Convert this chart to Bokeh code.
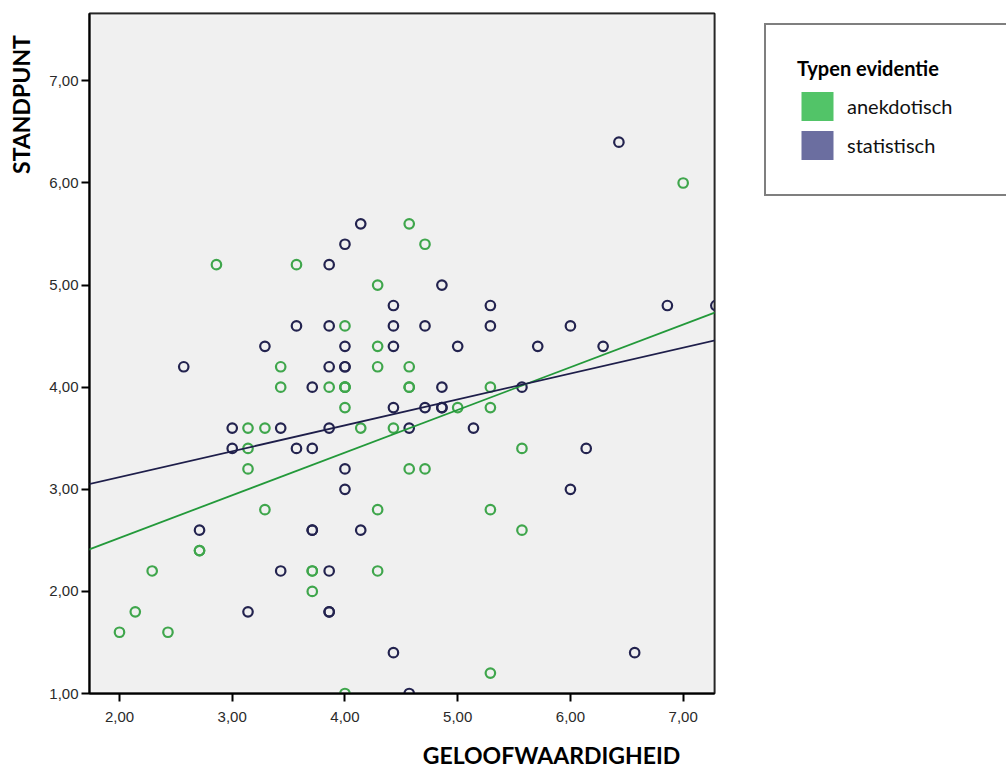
import math
from bokeh.plotting import figure
from bokeh.models import Range1d, FixedTicker, Slope, Label, Legend, LegendItem, BoxAnnotation
from bokeh.embed import file_html
from bokeh.resources import INLINE

# ---- data ----
anek_x = [2.00, 2.14, 2.29, 2.43, 2.71, 2.71, 2.86, 3.14, 3.14, 3.14, 3.29, 3.29, 3.43, 3.43,
          3.57, 3.71, 3.71, 3.71, 3.86, 4.00, 4.00, 4.00, 4.00, 4.00, 4.00, 4.14, 4.29, 4.29,
          4.29, 4.29, 4.29, 4.43, 4.57, 4.57, 4.57, 4.57, 4.57, 4.71, 4.71, 5.00, 5.29, 5.29,
          5.29, 5.29, 5.57, 5.57, 7.00]
anek_y = [1.6, 1.8, 2.2, 1.6, 2.4, 2.4, 5.2, 3.6, 3.4, 3.2, 3.6, 2.8, 4.2, 4.0,
          5.2, 2.2, 2.2, 2.0, 4.0, 4.6, 4.0, 4.0, 4.0, 3.8, 1.0, 3.6, 5.0, 4.4,
          4.2, 2.8, 2.2, 3.6, 5.6, 4.2, 4.0, 4.0, 3.2, 5.4, 3.2, 3.8, 4.0, 3.8,
          2.8, 1.2, 3.4, 2.6, 6.0]

stat_x = [2.57, 2.71, 3.00, 3.00, 3.14, 3.29, 3.43, 3.43, 3.57, 3.57, 3.71, 3.71, 3.71, 3.71,
          3.86, 3.86, 3.86, 3.86, 3.86, 3.86, 3.86, 4.00, 4.00, 4.00, 4.00, 4.00, 4.00, 4.14,
          4.14, 4.43, 4.43, 4.43, 4.43, 4.43, 4.57, 4.57, 4.71, 4.71, 4.86, 4.86, 4.86, 4.86,
          5.00, 5.14, 5.29, 5.29, 5.57, 5.71, 6.00, 6.00, 6.14, 6.29, 6.43, 6.57, 6.86, 7.29]
stat_y = [4.2, 2.6, 3.6, 3.4, 1.8, 4.4, 3.6, 2.2, 4.6, 3.4, 4.0, 3.4, 2.6, 2.6,
          5.2, 4.6, 4.2, 3.6, 2.2, 1.8, 1.8, 5.4, 4.4, 4.2, 4.2, 3.2, 3.0, 5.6,
          2.6, 4.8, 4.6, 4.4, 3.8, 1.4, 3.6, 1.0, 4.6, 3.8, 5.0, 4.0, 3.8, 3.8,
          4.4, 3.6, 4.8, 4.6, 4.0, 4.4, 4.6, 3.0, 3.4, 4.4, 6.4, 1.4, 4.8, 4.8]

# fit lines (intercept, slope)
anek_fit = (1.688, 0.4179)
stat_fit = (2.611, 0.2538)

x_ticks = [2, 3, 4, 5, 6, 7]
x_tick_labels = ["2,00", "3,00", "4,00", "5,00", "6,00", "7,00"]
y_ticks = [1, 2, 3, 4, 5, 6, 7]
y_tick_labels = ["1,00", "2,00", "3,00", "4,00", "5,00", "6,00", "7,00"]

series_names = ["anekdotisch", "statistisch"]
legend_title = "Typen evidentie"
x_title = "GELOOFWAARDIGHEID"
y_title = "STANDPUNT"

# ---- styles ----
GREEN_PT = "#3fa64c"
NAVY_PT = "#23234f"
GREEN_LN = "#23993a"
NAVY_LN = "#1e1e4a"
GREEN_LEG = "#52c468"
NAVY_LEG = "#6b6ea0"

p = figure(frame_width=625, frame_height=680,
           min_border_left=89, min_border_right=292, min_border_top=13, min_border_bottom=75,
           x_range=Range1d(1.734, 7.278), y_range=Range1d(1.0, 7.66),
           output_backend="svg", toolbar_location=None,
           background_fill_color="#f0f0f0", border_fill_color="white")

p.grid.visible = False
p.outline_line_color = "black"
p.outline_line_width = 2

# thin white inner margin between the frame line and the grey plot area
p.add_layout(BoxAnnotation(fill_alpha=0.0, line_color="white", line_width=6, level="underlay"))

for ax in (p.xaxis[0], p.yaxis[0]):
    ax.axis_line_color = "black"
    ax.axis_line_width = 2
    ax.major_tick_line_color = "black"
    ax.major_tick_line_width = 2
    ax.major_tick_out = 8
    ax.major_tick_in = 0
    ax.minor_tick_line_color = None
    ax.major_label_text_font = "Liberation Sans"
    ax.major_label_text_font_size = "15px"
    ax.major_label_text_color = "#2a2a2a"

p.xaxis.ticker = FixedTicker(ticks=x_ticks)
p.xaxis.major_label_overrides = {t: l for t, l in zip(x_ticks, x_tick_labels)}
p.xaxis.major_label_standoff = 10
p.yaxis.ticker = FixedTicker(ticks=y_ticks)
p.yaxis.major_label_overrides = {t: l for t, l in zip(y_ticks, y_tick_labels)}
p.yaxis.major_label_standoff = 3

# regression lines
p.add_layout(Slope(gradient=anek_fit[1], y_intercept=anek_fit[0], line_color=GREEN_LN, line_width=1.8))
p.add_layout(Slope(gradient=stat_fit[1], y_intercept=stat_fit[0], line_color=NAVY_LN, line_width=1.8))

# points
p.scatter(x=stat_x, y=stat_y, marker="circle", size=9.5, fill_color=None,
          line_color=NAVY_PT, line_width=2.2)
p.scatter(x=anek_x, y=anek_y, marker="circle", size=9.5, fill_color=None,
          line_color=GREEN_PT, line_width=2.2)

# legend swatches (hidden zero-area quads built from the series)
r_a = p.quad(left=anek_x, right=anek_x, top=anek_y, bottom=anek_y,
             fill_color=GREEN_LEG, line_color=None, visible=False)
r_s = p.quad(left=stat_x, right=stat_x, top=stat_y, bottom=stat_y,
             fill_color=NAVY_LEG, line_color=None, visible=False)

legend = Legend(items=[LegendItem(label=series_names[0], renderers=[r_a], index=0),
                       LegendItem(label=series_names[1], renderers=[r_s], index=0)],
                location=(50, 497), title=legend_title,
                title_text_font="Lato", title_text_font_style="bold", title_text_font_size="20px",
                title_text_color="black", title_standoff=8,
                label_text_font="Lato", label_text_font_size="20px", label_text_color="#111111",
                glyph_width=40, glyph_height=36, label_standoff=10, label_width=135, label_height=36,
                spacing=3, padding=31, margin=0,
                inactive_fill_alpha=0.0,
                border_line_color="black", border_line_width=2,
                background_fill_color="white", background_fill_alpha=1.0)
p.add_layout(legend, "right")

# axis titles
p.add_layout(Label(x=462, y=-2, x_units="screen", y_units="screen", text=x_title,
                   text_font="Lato", text_font_style="bold", text_font_size="23px",
                   text_align="center", text_baseline="middle", text_color="black"), "below")
p.add_layout(Label(x=2, y=589, x_units="screen", y_units="screen", text=y_title,
                   angle=math.pi / 2,
                   text_font="Lato", text_font_style="bold", text_font_size="23px",
                   text_align="center", text_baseline="middle", text_color="black"), "left")

open("out.html", "w").write(file_html(p, INLINE))
